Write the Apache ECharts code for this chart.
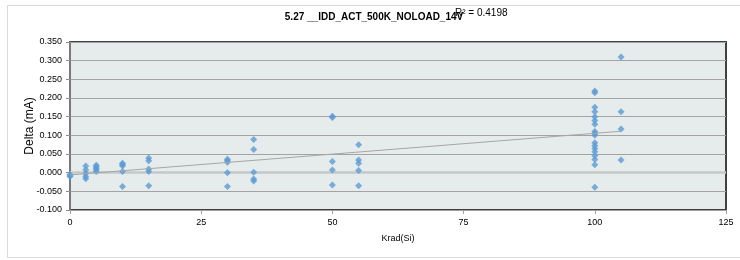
<!DOCTYPE html>
<html>
<head>
<meta charset="utf-8">
<script src="https://cdn.jsdelivr.net/npm/echarts@6/dist/echarts.min.js"></script>
<style>
  html, body { margin: 0; padding: 0; background: #fff; }
  #chart { width: 740px; height: 260px; }
</style>
</head>
<body>
<div id="chart"></div>
<script>
// dose levels (Krad(Si)) and the measured deltas at each level
const doses = [0, 3, 5, 10, 15, 30, 35, 50, 55, 100, 105]
const deltas = [
  [-0.005, -0.008, -0.010],
  [0.018, 0.008, -0.002, -0.010, -0.016],
  [0.020, 0.016, 0.012, 0.008, 0.003],
  [0.025, 0.022, 0.018, 0.003, -0.037],
  [0.039, 0.032, 0.010, 0.003, -0.035],
  [0.036, 0.032, 0.028, 0.000, -0.037],
  [0.089, 0.062, 0.001, -0.017, -0.022],
  [0.151, 0.148, 0.030, 0.007, -0.033],
  [0.075, 0.034, 0.025, 0.006, -0.035],
  [0.219, 0.214, 0.175, 0.163, 0.150, 0.140, 0.130, 0.110, 0.105, 0.100,
   0.080, 0.072, 0.065, 0.056, 0.045, 0.035, 0.021, -0.039],
  [0.310, 0.163, 0.117, 0.034]
]
// linear trendline end points
const trendX = [0, 105]
const trendY = [-0.006, 0.111]
const yTicks = { min: -0.1, max: 0.35, step: 0.05 }
const xTicks = { min: 0, max: 125, step: 25 }

const points = []
doses.forEach((d, i) => deltas[i].forEach(v => points.push([d, v])))

const font = 'Liberation Sans'
const chart = echarts.init(document.getElementById('chart'))
chart.setOption({
  animation: false,
  graphic: [
    { type: 'rect', shape: { x: 7.5, y: 5.5, width: 760, height: 252 },
      style: { fill: 'none', stroke: '#d9d9d9', lineWidth: 1 }, z: -10 },
    { type: 'text', x: 374, y: 17,
      style: { text: '5.27 __IDD_ACT_500K_NOLOAD_14V', fontFamily: font,
        fontWeight: 'bold', fontSize: 10, fill: '#000', align: 'center', verticalAlign: 'middle' } },
    { type: 'text', x: 455, y: 13,
      style: { text: 'R² = 0.4198', fontFamily: font, fontSize: 10, fill: '#000',
        align: 'left', verticalAlign: 'middle' } }
  ],
  grid: {
    left: 70, right: 14, top: 42, bottom: 50,
    show: true, backgroundColor: '#e6ebeb', borderColor: '#404040', borderWidth: 2
  },
  xAxis: {
    type: 'value', min: xTicks.min, max: xTicks.max, interval: xTicks.step,
    name: 'Krad(Si)', nameLocation: 'middle', nameGap: 24,
    nameTextStyle: { fontFamily: font, fontSize: 9, color: '#000' },
    axisLine: { onZero: false, lineStyle: { color: '#a0a0a0', width: 1 } },
    axisTick: { show: true, length: 4, lineStyle: { color: '#a0a0a0' } },
    axisLabel: { fontFamily: font, fontSize: 9, color: '#000', margin: 8 },
    splitLine: { show: false }
  },
  yAxis: {
    type: 'value', min: yTicks.min, max: yTicks.max, interval: yTicks.step,
    name: 'Delta (mA)', nameLocation: 'middle', nameGap: 34, nameRotate: 90,
    nameMoveOverlap: false,
    nameTextStyle: { fontFamily: font, fontSize: 12, color: '#000' },
    axisLine: { show: true, lineStyle: { color: '#8c8c8c', width: 1.5 } },
    axisTick: { show: true, length: 4, lineStyle: { color: '#8c8c8c' } },
    axisLabel: { fontFamily: font, fontSize: 9, color: '#000', margin: 8,
      formatter: v => v.toFixed(3) },
    splitLine: { lineStyle: { color: '#a3a3a3', width: 1 } }
  },
  series: [
    {
      // zero line, drawn under the markers
      type: 'line', data: [], z: 1,
      markLine: {
        silent: true, symbol: 'none', label: { show: false }, z: 1,
        lineStyle: { color: '#c4c8c8', width: 2.5, type: 'solid' },
        data: [{ yAxis: 0 }]
      }
    },
    {
      type: 'scatter', data: points, symbol: 'diamond', symbolSize: 7,
      itemStyle: { color: '#5b9bd5' }, z: 4
    },
    {
      type: 'line', data: trendX.map((x, i) => [x, trendY[i]]),
      showSymbol: false, symbol: 'none',
      lineStyle: { color: '#a6a6a6', width: 1 }, z: 5
    }
  ]
})
</script>
</body>
</html>
